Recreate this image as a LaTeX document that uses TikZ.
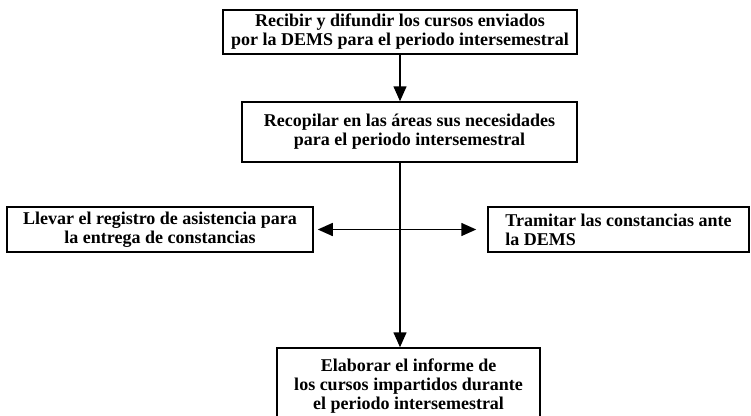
\documentclass[tikz,border=0pt]{standalone}
\usepackage{fontspec}
\setmainfont{Liberation Serif}
\usetikzlibrary{arrows.meta}
\usetikzlibrary{positioning}

\begin{document}
\begin{tikzpicture}[
    x=1pt, y=-1pt,
    line width=1.5pt,
    font=\bfseries\fontsize{18}{19}\selectfont
]
\tikzset{
    procbox/.style = {rectangle, draw=black, align=center, inner sep=0pt},
    flow/.style = {-{Triangle[length=15pt,width=13pt]}},
    flowb/.style = {{Triangle[length=15pt,width=13pt]}-{Triangle[length=15pt,width=13pt]}}
}
\useasboundingbox (0,0) rectangle (751,415);
\node[procbox, minimum width=354pt, minimum height=44pt] at (400,32) (recibir)
    {Recibir y difundir los cursos enviados\\por la DEMS para el periodo intersemestral};
\node[procbox, minimum width=335pt, minimum height=60pt] at (409.5,132) (recopilar)
    {Recopilar en las áreas sus necesidades\\para el periodo intersemestral};
\node[procbox, minimum width=306pt, minimum height=45pt] at (160,229.5) (llevar)
    {Llevar el registro de asistencia para\\la entrega de constancias};
\node[procbox, align=left, minimum width=261pt, minimum height=45pt] at (618.5,229.5) (tramitar)
    {Tramitar las constancias ante\\la DEMS};
\node[procbox, minimum width=263pt, minimum height=76pt] at (408.5,386) (elaborar)
    {Elaborar el informe de\\los cursos impartidos durante\\el periodo intersemestral};
\draw[flow] (recibir.south) -- (recibir.south |- recopilar.north);
\draw[flow] (recibir.south |- recopilar.south) -- (recibir.south |- elaborar.north);
\draw[flowb, shorten <=4pt, shorten >=11pt] (llevar.east) -- (llevar.east -| tramitar.west);
\end{tikzpicture}
\end{document}
